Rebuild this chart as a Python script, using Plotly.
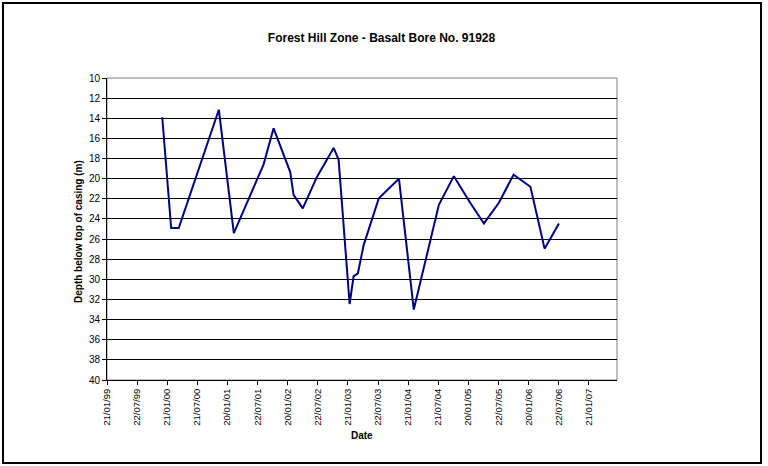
import plotly.graph_objects as go
from datetime import datetime

# ---- data ----
dates = [
    "1999-12-22", "2000-02-14", "2000-03-31", "2000-11-29", "2001-02-28",
    "2001-08-27", "2001-10-27", "2002-02-05", "2002-02-25", "2002-04-22",
    "2002-07-16", "2002-10-26", "2002-11-25", "2003-01-31", "2003-02-24",
    "2003-03-22", "2003-04-26", "2003-07-27", "2003-11-26", "2004-02-24",
    "2004-07-25", "2004-10-24", "2005-01-27", "2005-04-24", "2005-07-24",
    "2005-10-21", "2006-01-31", "2006-04-27", "2006-07-23",
]
depth = [
    13.9, 24.9, 24.9, 13.15, 25.4,
    18.6, 15.0, 19.35, 21.6, 22.95,
    19.85, 16.95, 18.1, 32.45, 29.7,
    29.4, 26.6, 21.95, 20.0, 33.0,
    22.6, 19.75, 22.3, 24.45, 22.4,
    19.6, 20.8, 26.95, 24.45,
]
x_tick_labels = [
    "21/01/99", "22/07/99", "21/01/00", "21/07/00", "20/01/01", "22/07/01",
    "20/01/02", "22/07/02", "21/01/03", "22/07/03", "21/01/04", "21/07/04",
    "20/01/05", "22/07/05", "20/01/06", "22/07/06", "21/01/07",
]
y_ticks = list(range(10, 41, 2))

title_text = "Forest Hill Zone - Basalt Bore No. 91928"
x_title = "Date"
y_title = "Depth below top of casing (m)"

tick_vals = [datetime.strptime(t, "%d/%m/%y").strftime("%Y-%m-%d") for t in x_tick_labels]

W, H = 768, 466
ML, MR, MT, MB = 107, 151, 78, 86
PW, PH = W - ML - MR, H - MT - MB

def px_x(px):
    return (px - ML) / PW

def px_y(py):
    return (H - MB - py) / PH

fig = go.Figure()
fig.add_trace(go.Scatter(
    x=dates, y=depth, mode="lines",
    line=dict(color="#000080", width=2),
    showlegend=False,
))

font_family = "Liberation Sans, Arial, sans-serif"

fig.update_layout(
    width=W, height=H,
    margin=dict(l=ML, r=MR, t=MT, b=MB),
    paper_bgcolor="white", plot_bgcolor="white",
    font=dict(family=font_family, color="#000000", size=10),
    title=dict(
        text="<b>" + title_text + "</b>",
        x=381.5 / W, xanchor="center", xref="container",
        y=1 - 38 / H, yanchor="middle", yref="container",
        font=dict(size=12, family=font_family, color="#000000"),
    ),
    xaxis=dict(
        type="date",
        range=["1999-01-21", "2007-07-10"],
        tickmode="array", tickvals=tick_vals, ticktext=x_tick_labels,
        tickangle=-90,
        tickfont=dict(size=9.5),
        ticks="outside", ticklen=4, tickcolor="#000000", tickwidth=1,
        showgrid=False, zeroline=False,
        showline=True, linecolor="#000000", linewidth=1,
    ),
    yaxis=dict(
        range=[40, 10],
        tickmode="array", tickvals=y_ticks,
        tickfont=dict(size=10),
        ticks="outside", ticklen=4, tickcolor="#000000", tickwidth=1,
        showgrid=True, gridcolor="#000000", gridwidth=1,
        zeroline=False,
        showline=True, linecolor="#000000", linewidth=1,
    ),
    shapes=[
        # plot-area border (grey top / right)
        dict(type="rect", xref="paper", yref="paper", x0=0, x1=1, y0=0, y1=1,
             line=dict(color="#808080", width=1), layer="below"),
        # outer chart frame
        dict(type="rect", xref="paper", yref="paper",
             x0=px_x(3), x1=px_x(761), y0=px_y(463), y1=px_y(3),
             line=dict(color="#000000", width=2), layer="above"),
    ],
    annotations=[
        dict(text="<b>" + x_title + "</b>", xref="paper", yref="paper",
             x=0.5, y=px_y(435), xanchor="center", yanchor="middle",
             showarrow=False, font=dict(size=10)),
        dict(text="<b>" + y_title + "</b>", xref="paper", yref="paper",
             x=px_x(79), y=px_y(232), xanchor="center", yanchor="middle",
             textangle=-90, showarrow=False, font=dict(size=10)),
    ],
)

fig.write_html(
    "out.html",
    config={"displayModeBar": False},
    post_script="document.body.style.margin='0';document.body.style.overflow='hidden';",
)
